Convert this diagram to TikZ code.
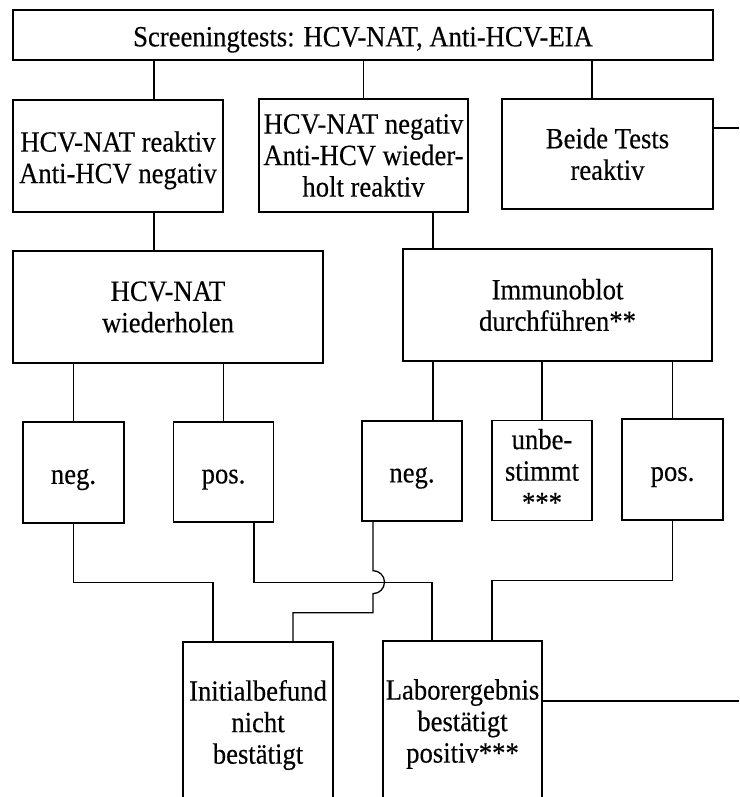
\documentclass[tikz,border=0pt]{standalone}
\usepackage{fontspec}
\setmainfont{Liberation Serif}[FakeStretch=0.91,FakeBold=0.3]
\usetikzlibrary{positioning}

\newcommand\boxstrut{\rule{0pt}{29pt}}

\begin{document}
\begin{tikzpicture}[x=1pt,y=-1pt,
    box/.style={draw, line width=1.3pt, align=center, inner sep=0pt,
        font=\fontsize{29.3}{31.5}\selectfont},
    link/.style={line width=1.3pt}]
        \useasboundingbox (0,0) rectangle (739,797);
        \clip (0,0) rectangle (739,797);
        % boxes
        \node[box, minimum width=700pt, minimum height=50pt] (screen) at (363,35) {\boxstrut Screeningtests: HCV-NAT, Anti-HCV-EIA};
        \node[box, minimum width=210pt, minimum height=112pt] (natpos) at (118,156) {\boxstrut HCV-NAT reaktiv\\Anti-HCV negativ};
        \node[box, minimum width=209pt, minimum height=113pt] (natneg) at (363.5,155.5) {HCV-NAT negativ\\Anti-HCV wieder-\\holt reaktiv};
        \node[box, minimum width=211pt, minimum height=110pt] (beide) at (607.5,154) {Beide Tests\\reaktiv};
        \node[box, minimum width=310pt, minimum height=112pt] (natwdh) at (168,307) {HCV-NAT\\wiederholen};
        \node[box, minimum width=309pt, minimum height=112pt] (blot) at (557.5,305) {Immunoblot\\durchführen**};
        \node[box, minimum size=101pt] (negA) at (73.5,472.5) {\boxstrut neg.};
        \node[box, minimum size=100pt] (posA) at (223.5,472) {\boxstrut pos.};
        \node[box, minimum size=100pt] (negB) at (412,471) {\boxstrut neg.};
        \node[box, minimum size=100pt] (unbest) at (542,470.5) {unbe-\\stimmt\\***};
        \node[box, minimum size=101pt] (posB) at (672.5,469.5) {\boxstrut pos.};
        \node[box, minimum width=150pt, minimum height=166pt] (initial) at (258,725) {Initialbefund\\nicht\\bestätigt};
        \node[box, minimum width=159pt, minimum height=166pt] (labor) at (462.5,724) {\makebox[150pt]{Laborergebnis}\\bestätigt\\positiv***};
        % connectors
        \coordinate (t1) at ([xshift=36pt]natpos.north);
        \coordinate (t3) at ([xshift=-15.5pt]beide.north);
        \coordinate (t5) at ([xshift=-124.5pt]blot.north);
        \coordinate (edgeC) at (739,128);
        \coordinate (edgeL) at (739,701);
        \draw[link] (t1 |- screen.south) -- (t1);
        \draw[link] (natneg.north |- screen.south) -- (natneg.north);
        \draw[link] (t3 |- screen.south) -- (t3);
        \draw[link] (edgeC -| beide.east) -- (edgeC);
        \draw[link] (t1 |- natpos.south) -- (t1 |- natwdh.north);
        \draw[link] (t5 |- natneg.south) -- (t5);
        \draw[link] (negA.north |- natwdh.south) -- (negA.north);
        \draw[link] (posA.north |- natwdh.south) -- (posA.north);
        \draw[link] (t5 |- blot.south) -- (t5 |- negB.north);
        \draw[link] (unbest.north |- blot.south) -- (unbest.north);
        \draw[link] (posB.north |- blot.south) -- (posB.north);
        \draw[link] (negA.south) -- ++(0,59) -| ([xshift=-45pt]initial.north);
        \draw[link] ([xshift=30.5pt]posA.south) -- ++(0,60) -| ([xshift=-30.5pt]labor.north);
        \draw[link] ([xshift=-39pt]negB.south) -- ++(0,49) arc[start angle=90, end angle=-90, radius=11.5pt] -- ++(0,19) -| ([xshift=35pt]initial.north);
        \draw[link] (posB.south) -- ++(0,60) -| ([xshift=29.5pt]labor.north);
        \draw[link] (edgeL -| labor.east) -- (edgeL);
    \end{tikzpicture}
\end{document}
